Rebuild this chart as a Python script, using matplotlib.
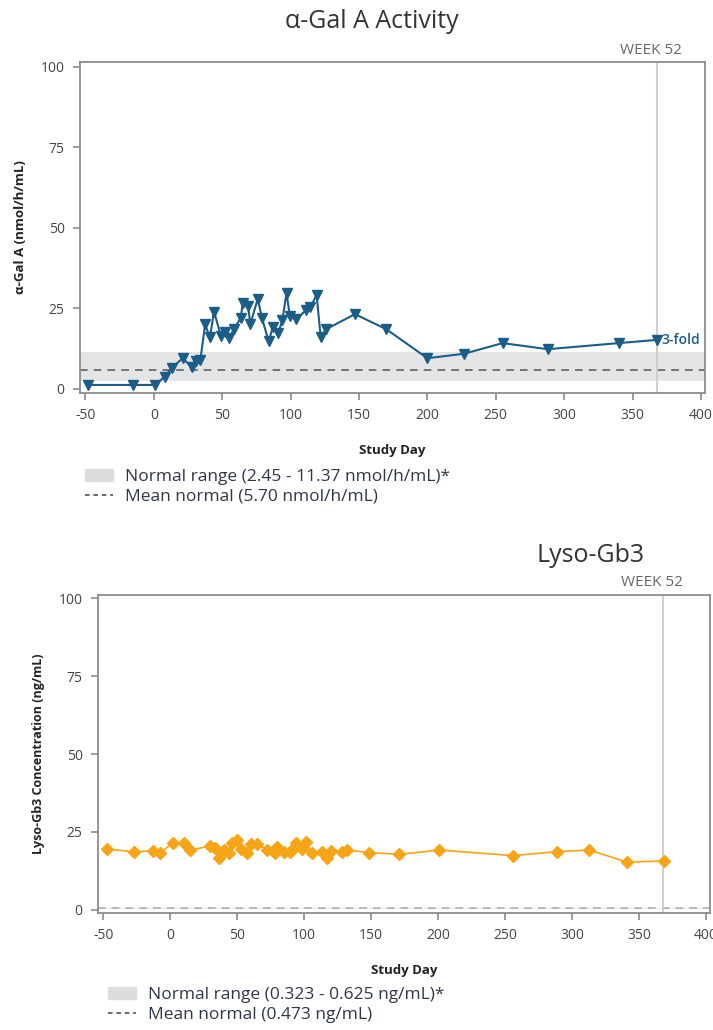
import matplotlib.pyplot as plt
from matplotlib.patches import Patch
from matplotlib.lines import Line2D
from matplotlib.transforms import blended_transform_factory, offset_copy

plt.rcParams['font.family'] = ['Open Sans', 'DejaVu Sans']
plt.rcParams['axes.unicode_minus'] = False

# alpha-Gal A activity
gal_day = [-48, -15, 1, 8, 13, 21, 28, 31, 34, 37.5, 41, 44, 49, 52, 55, 58.5, 63.5, 65, 69, 70.5,
           76, 79, 84, 87, 91, 94, 97, 99.5, 104, 111.5, 114.5, 119, 122, 126, 147, 170,
           200, 227, 255, 288, 340, 368]
gal_val = [1.2, 1.2, 1.2, 3.8, 6.4, 9.5, 6.7, 8.7, 9, 20, 16, 24, 16.5, 17.5, 15.7, 18.5, 22, 26.6, 25.6, 20,
           28, 22, 14.7, 19.3, 17.3, 21.4, 29.7, 22.5, 21.6, 24.5, 25.3, 29.2, 16, 18.5, 23.2, 18.5,
           9.5, 10.9, 14.2, 12.3, 14.2, 15.2]
gal_range = (2.45, 11.37)
gal_mean = 5.70

# Lyso-Gb3
lyso_day = [-47, -27, -13, -8, 2, 10, 15, 30, 33, 36, 40, 44, 46, 50, 53, 57, 60, 65, 72, 78, 80,
            85, 89, 92, 94, 98, 101, 106, 113, 117, 120, 128, 132, 148, 171, 201, 256, 289, 313, 341, 369]
lyso_val = [19.5, 18.6, 19, 18.2, 21.4, 21.4, 19.2, 20.5, 19.8, 16.6, 19.2, 18.4, 21.4, 22.4, 19.4, 18.3, 21.2,
            21.2, 19.2, 18.2, 20.1, 18.5, 18.7, 19.8, 21.4, 19.4, 21.9, 18.2, 18.7, 16.8, 19, 18.7, 19.2,
            18.4, 17.8, 19.2, 17.4, 18.7, 19.2, 15.3, 15.7]
lyso_range = (0.323, 0.625)
lyso_mean = 0.473

week52 = 368
xticks = list(range(-50, 401, 50))
yticks = [0, 25, 50, 75, 100]

W, H = 713, 1030
fig = plt.figure(figsize=(W / 100, H / 100), dpi=100)

spine_c = '#8c8c8c'
tick_c = '#444444'
text_c = '#2e3648'


def px_axes(l, t, r, b):
    return fig.add_axes([l / W, 1 - b / H, (r - l) / W, (b - t) / H])


def style(ax, ylabel, ylsize):
    ax.set_xlim(-54, 403)
    ax.set_ylim(-1.3, 101.5)
    ax.set_xticks(xticks)
    ax.set_yticks(yticks)
    for s in ax.spines.values():
        s.set_color(spine_c)
        s.set_linewidth(1.3)
    ax.tick_params(colors=spine_c, labelcolor=tick_c, labelsize=10, length=5, width=1.2, pad=6)
    ax.set_xlabel('Study Day', fontsize=9.5, fontweight='bold', color='#222222', labelpad=15)
    ax.set_ylabel(ylabel, fontsize=ylsize, fontweight='bold', color='#222222', labelpad=10)


# ---- top panel
ax1 = px_axes(80, 62, 705, 393)
ax1.axhspan(*gal_range, color='#e4e5e7', lw=0, zorder=0)
ax1.axhline(gal_mean, color='#555555', ls=(0, (5, 4)), lw=1.1, zorder=1)
ax1.axvline(week52, color='#cfcfcf', lw=1.5, zorder=1)
ax1.plot(gal_day, gal_val, color='#1c5d88', lw=1.5, marker='v', ms=7, zorder=3)
ax1.annotate('3-fold', (gal_day[-1], gal_val[-1]), xytext=(3, 0), textcoords='offset points',
             ha='left', va='center', color='#1c5d88', fontsize=10, fontweight='semibold')
style(ax1, 'α-Gal A (nmol/h/mL)', 9.5)
tr = offset_copy(blended_transform_factory(ax1.transData, ax1.transAxes), fig=fig, x=-6, y=0, units='dots')
ax1.text(week52, 1.035, 'WEEK 52', transform=tr, ha='center', va='center', color='#666666', fontsize=11)
fig.text(372 / W, 1 - 22 / H, 'α-Gal A Activity', ha='center', va='center', fontsize=18, color='#333333')

h1 = [Patch(color='#dcdddf'), Line2D([], [], color='#444444', ls=(0, (3, 2.5)), lw=1.1)]
fig.legend(h1, ['Normal range (2.45 - 11.37 nmol/h/mL)*', 'Mean normal (5.70 nmol/h/mL)'],
           loc='upper left', bbox_to_anchor=(85 / W, 1 - 469 / H), frameon=False, fontsize=12.5,
           handlelength=1.6, handletextpad=0.7, labelspacing=0.2, borderpad=0, borderaxespad=0,
           labelcolor=text_c)

# ---- bottom panel
ax2 = px_axes(98, 595, 710, 913)
ax2.axhspan(*lyso_range, color='#e4e5e7', lw=0, zorder=0)
ax2.axhline(lyso_mean, color='#a8a8a8', ls=(0, (5, 4)), lw=1.1, zorder=1)
ax2.axvline(week52, color='#c8c8c8', lw=1.2, zorder=1)
ax2.plot(lyso_day, lyso_val, color='#f7a416', lw=1.2, marker='D', ms=6, zorder=3)
style(ax2, 'Lyso-Gb3 Concentration (ng/mL)', 9)
ax2.set_ylim(-1, 101)
tr2 = offset_copy(blended_transform_factory(ax2.transData, ax2.transAxes), fig=fig, x=-11, y=0, units='dots')
ax2.text(week52, 1.04, 'WEEK 52', transform=tr2, ha='center', va='center', color='#666666', fontsize=11)
fig.text(591 / W, 1 - 556 / H, 'Lyso-Gb3', ha='center', va='center', fontsize=18, color='#333333')

h2 = [Patch(color='#dcdddf'), Line2D([], [], color='#444444', ls=(0, (3, 2.5)), lw=1.1)]
fig.legend(h2, ['Normal range (0.323 - 0.625 ng/mL)*', 'Mean normal (0.473 ng/mL)'],
           loc='upper left', bbox_to_anchor=(108 / W, 1 - 987 / H), frameon=False, fontsize=12.5,
           handlelength=1.6, handletextpad=0.7, labelspacing=0.2, borderpad=0, borderaxespad=0,
           labelcolor=text_c)

fig.savefig('out.png', dpi=100)
